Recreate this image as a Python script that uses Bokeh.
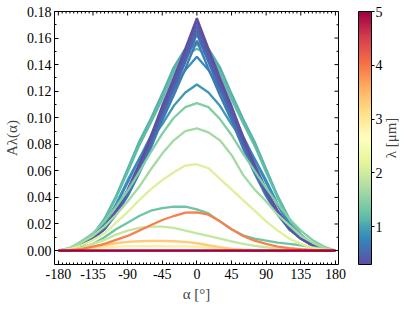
import math
from bokeh.plotting import figure
from bokeh.layouts import row
from bokeh.models import (ColumnDataSource, LinearColorMapper, ColorBar, FixedTicker,
                          Range1d)
from bokeh.transform import linear_cmap
from bokeh.embed import file_html
from bokeh.resources import INLINE

# ---------------- data ----------------
ALPHA = [-180, -165, -150, -135, -120, -105, -90, -75, -60, -45, -30, -15, 0,
         15, 30, 45, 60, 75, 90, 105, 120, 135, 150, 165, 180]

# drawing order: broad teal curves first, then blue, purple, then the faint ones
WAVELENGTHS = [1.08, 1.14, 1.20, 0.90, 0.80, 0.68, 0.60, 0.52, 0.45, 0.38, 0.30,
               1.30, 1.42, 1.65, 1.90, 2.10, 2.90, 3.30, 3.90, 4.50, 5.00]

A_030 = [0, .001, .004, .010, .018, .030, .046, .065, .086, .109, .130, .152, .175,
         .152, .130, .109, .086, .065, .046, .030, .018, .010, .004, .001, 0]
A_038 = [0, .001, .004, .009, .017, .029, .045, .064, .084, .107, .127, .150, .172,
         .150, .127, .107, .084, .064, .045, .029, .017, .009, .004, .001, 0]
A_045 = [0, .001, .004, .009, .017, .029, .044, .063, .083, .105, .125, .147, .169,
         .147, .125, .105, .083, .063, .044, .029, .017, .009, .004, .001, 0]
A_052 = [0, .001, .004, .009, .017, .028, .043, .061, .081, .103, .123, .144, .166,
         .144, .123, .103, .081, .061, .043, .028, .017, .009, .004, .001, 0]
A_060 = [0, .001, .004, .009, .016, .028, .042, .060, .080, .101, .121, .142, .163,
         .142, .121, .101, .080, .060, .042, .028, .016, .009, .004, .001, 0]
A_068 = [0, .001, .004, .009, .016, .027, .041, .058, .077, .098, .117, .137, .158,
         .137, .117, .098, .077, .058, .041, .027, .016, .009, .004, .001, 0]
A_080 = [0, .001, .004, .010, .020, .034, .051, .069, .086, .104, .121, .136, .146,
         .136, .121, .104, .086, .069, .051, .034, .020, .010, .004, .001, 0]
A_090 = [0, .001, .004, .010, .020, .035, .053, .069, .083, .095, .109, .119, .125,
         .119, .109, .095, .083, .069, .053, .035, .020, .010, .004, .001, 0]
A_108 = [0, .001, .005, .012, .024, .041, .061, .082, .099, .118, .138, .152, .157,
         .152, .138, .118, .099, .082, .061, .041, .024, .012, .005, .001, 0]
A_114 = [0, .001, .005, .012, .023, .040, .061, .081, .098, .116, .136, .150, .155,
         .150, .136, .116, .098, .081, .061, .040, .023, .012, .005, .001, 0]
A_120 = [0, .001, .005, .011, .023, .040, .059, .079, .096, .114, .134, .147, .152,
         .147, .134, .114, .096, .079, .059, .040, .023, .011, .005, .001, 0]
A_130 = [0, .0005, .002, .005, .010, .016, .021, .026, .030, .032, .033, .033, .031,
         .028, .022, .016, .0115, .009, .0075, .006, .005, .004, .0025, .001, 0]
A_142 = [0, .002, .007, .013, .022, .033, .045, .059, .074, .088, .100, .108, .111,
         .108, .099, .087, .073, .060, .047, .035, .024, .015, .008, .003, 0]
A_165 = [0, .002, .006, .011, .018, .027, .037, .048, .061, .073, .083, .090, .092,
         .089, .083, .072, .057, .046, .037, .027, .019, .011, .006, .002, 0]
A_190 = [0, .0005, .002, .005, .008, .012, .015, .017, .018, .018, .017, .015, .013,
         .011, .009, .007, .005, .0035, .0025, .0015, .001, .0005, .0003, .0001, 0]
A_210 = [0, .001, .004, .008, .013, .021, .029, .038, .046, .053, .059, .064, .065,
         .062, .054, .046, .038, .030, .022, .015, .009, .005, .002, .0007, 0]
A_290 = [0, .0002, .0008, .0015, .0025, .003, .0033, .0033, .0033, .0033, .0032, .0031, .003,
         .0025, .0018, .001, .0005, .0002, .0001, 0, 0, 0, 0, 0, 0]
A_330 = [0, .0003, .001, .0025, .004, .0055, .0065, .007, .0072, .0072, .007, .0065, .0055,
         .004, .0025, .0013, .0006, .0003, .0001, 0, 0, 0, 0, 0, 0]
A_390 = [0, .0003, .001, .003, .005, .008, .011, .015, .019, .023, .026, .0285, .0287,
         .027, .022, .016, .011, .0075, .005, .003, .0018, .001, .0005, .0002, 0]
A_450 = [0] * 25
A_500 = [0] * 25

CURVES = [A_108, A_114, A_120, A_090, A_080, A_068, A_060, A_052, A_045, A_038, A_030,
          A_130, A_142, A_165, A_190, A_210, A_290, A_330, A_390, A_450, A_500]

X_TICKS = [-180, -135, -90, -45, 0, 45, 90, 135, 180]
Y_TICKS = [0.00, 0.02, 0.04, 0.06, 0.08, 0.10, 0.12, 0.14, 0.16, 0.18]
CB_TICKS = [1, 2, 3, 4, 5]
LAM_LOW, LAM_HIGH = 0.3, 5.0
X_LO, X_HI = -185, 184
Y_LO, Y_HI = -0.0105, 0.18

# ---------------- style ----------------
SPECTRAL = ['#5e4fa2', '#3288bd', '#66c2a5', '#abdda4', '#e6f598', '#ffffbf',
            '#fee08b', '#fdae61', '#f46d43', '#d53e4f', '#9e0142']


def _interp(colors, n):
    rgb = [tuple(int(c[i:i + 2], 16) for i in (1, 3, 5)) for c in colors]
    out = []
    for k in range(n):
        t = k / (n - 1) * (len(rgb) - 1)
        i = min(int(t), len(rgb) - 2)
        f = t - i
        c = tuple(round(rgb[i][j] + (rgb[i + 1][j] - rgb[i][j]) * f) for j in range(3))
        out.append('#%02x%02x%02x' % c)
    return out


PALETTE = _interp(SPECTRAL, 256)
FONT = "Liberation Serif"

source = ColumnDataSource(dict(xs=[ALPHA] * len(CURVES), ys=CURVES, lam=WAVELENGTHS))

p = figure(frame_width=284, frame_height=253,
           x_range=Range1d(X_LO, X_HI), y_range=Range1d(Y_LO, Y_HI),
           output_backend="svg", toolbar_location=None,
           min_border_left=47, min_border_top=11, min_border_bottom=40,
           min_border_right=0)

p.multi_line('xs', 'ys', source=source, line_width=2.3,
             line_color=linear_cmap('lam', PALETTE, LAM_LOW, LAM_HIGH))

# inward ticks on the top and right edges (half of each dash is clipped by the frame)
minor_x = [v for v in range(-180, 181, 5) if v % 45 != 0]
minor_y = [round(0.01 * k, 2) for k in range(0, 19) if k % 2 == 1]
p.scatter(X_TICKS, [Y_HI] * len(X_TICKS), marker="dash", angle=math.pi / 2,
          size=8, line_color="black", line_width=1)
p.scatter(minor_x, [Y_HI] * len(minor_x), marker="dash", angle=math.pi / 2,
          size=4, line_color="black", line_width=1)
p.scatter([X_HI] * len(Y_TICKS), Y_TICKS, marker="dash",
          size=8, line_color="black", line_width=1)
p.scatter([X_HI] * len(minor_y), minor_y, marker="dash",
          size=4, line_color="black", line_width=1)

p.xgrid.visible = False
p.ygrid.visible = False
p.outline_line_color = "black"
p.outline_line_width = 1

for ax in (p.xaxis[0], p.yaxis[0]):
    ax.major_tick_in = 4
    ax.major_tick_out = 0
    ax.minor_tick_in = 2
    ax.minor_tick_out = 0
    ax.axis_line_color = None
    ax.major_label_text_font = FONT
    ax.major_label_text_font_size = "14px"
    ax.major_label_text_color = "black"
    ax.axis_label_text_font = FONT
    ax.axis_label_text_font_size = "15px"
    ax.axis_label_text_font_style = "normal"

p.xaxis[0].ticker = FixedTicker(ticks=X_TICKS, minor_ticks=minor_x)
p.yaxis[0].ticker = FixedTicker(ticks=Y_TICKS, minor_ticks=minor_y)
p.xaxis[0].major_label_overrides = {t: str(t) for t in X_TICKS}
p.yaxis[0].major_label_overrides = {t: "%.2f" % t for t in Y_TICKS}
p.xaxis[0].major_label_standoff = 4
p.yaxis[0].major_label_standoff = 3
p.xaxis[0].axis_label = "α [°]"
p.yaxis[0].axis_label = "Aλ(α)"
p.xaxis[0].axis_label_standoff = 4
p.yaxis[0].axis_label_standoff = 4

mapper = LinearColorMapper(palette=PALETTE, low=LAM_LOW, high=LAM_HIGH)
cb = ColorBar(color_mapper=mapper, ticker=FixedTicker(ticks=CB_TICKS),
              width=13, height=253, padding=0, margin=0, location=(20, 0),
              bar_line_color="black", bar_line_width=1,
              major_tick_in=0, major_tick_out=3, major_tick_line_color="black",
              major_label_text_font=FONT, major_label_text_font_size="14px",
              major_label_text_color="black", label_standoff=1,
              background_fill_alpha=0, border_line_color=None)
p.add_layout(cb, "right")

# colour-bar title: a tiny companion figure whose left-axis label reads bottom-to-top
q = figure(width=18, height=304, x_range=Range1d(0, 1), y_range=Range1d(0, 1),
           output_backend="svg", toolbar_location=None,
           x_axis_location=None, min_border_left=0, min_border_right=0,
           min_border_top=11, min_border_bottom=40)
q.margin = (0, 0, 0, -5)
q.border_fill_color = None
q.background_fill_color = None
q.scatter([0.5], [0.5], size=0, alpha=0)
q.outline_line_color = None
q.xgrid.visible = False
q.ygrid.visible = False
q.yaxis[0].ticker = FixedTicker(ticks=[])
q.yaxis[0].axis_line_color = None
q.yaxis[0].major_tick_in = 0
q.yaxis[0].major_tick_out = 0
q.yaxis[0].minor_tick_in = 0
q.yaxis[0].minor_tick_out = 0
q.yaxis[0].axis_label = "λ [μm]"
q.yaxis[0].axis_label_text_font = FONT
q.yaxis[0].axis_label_text_font_size = "15px"
q.yaxis[0].axis_label_text_font_style = "normal"
q.yaxis[0].axis_label_standoff = 0

layout = row(p, q, spacing=0)
open("out.html", "w").write(file_html(layout, INLINE))
